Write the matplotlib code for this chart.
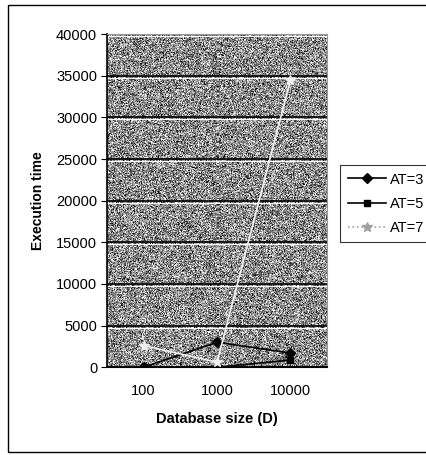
import numpy as np
import matplotlib.pyplot as plt
from matplotlib.patches import Rectangle

plt.rcParams['font.family'] = ['Liberation Sans', 'DejaVu Sans']

sizes = ['100', '1000', '10000']
at3 = [0, 3000, 1700]
at5 = [0, 0, 850]
at7 = [2600, 600, 34500]

fig = plt.figure(figsize=(4.26, 4.55), dpi=100)
ax = fig.add_axes([0.251, 0.193, 0.517, 0.732])

# grainy grey plot area
rng = np.random.default_rng(7)
tex = np.clip(rng.normal(0.55, 0.24, (333, 220)), 0, 1)
ax.imshow(tex, cmap='gray', vmin=0, vmax=1, extent=[0, 1, 0, 1],
          transform=ax.transAxes, aspect='auto', zorder=0, interpolation='nearest')

x = np.arange(len(sizes))
ax.plot(x, at3, color='black', lw=1.2, marker='D', ms=5, label='AT=3', zorder=3)
ax.plot(x, at5, color='black', lw=1.2, marker='s', ms=5, label='AT=5', zorder=3)
ax.plot(x, at7, color='#f0f0f0', lw=1.2, marker='*', ms=7, label='AT=7', zorder=3)

ax.set_xlim(-0.5, 2.5)
ax.set_ylim(0, 40000)
ax.set_yticks(range(0, 40001, 5000))
ax.set_xticks(x)
ax.set_xticklabels(sizes)
ax.set_xticks([0.5, 1.5], minor=True)
ax.tick_params(axis='x', which='major', length=0, pad=12, labelsize=10.5)
ax.tick_params(axis='x', which='minor', length=4, direction='in', color='black')
ax.tick_params(axis='y', length=4, direction='out', pad=3, labelsize=10.5)

for v in range(5000, 40001, 5000):
    ax.axhline(v, color='black', lw=1.2, zorder=1)
    ax.axhline(v - 250, color='white', lw=0.8, zorder=1)

for s in ['top', 'right']:
    ax.spines[s].set_color('#9a9a9a')
ax.spines['left'].set_linewidth(1.2)
ax.spines['bottom'].set_linewidth(1.5)

ax.set_xlabel('Database size (D)', fontsize=10.5, fontweight='bold', labelpad=10)
ax.set_ylabel('Execution time', fontsize=10, fontweight='bold', labelpad=8)

leg = fig.legend(loc='upper left', bbox_to_anchor=(333 / 426, 1 - 158 / 455),
                 fontsize=10.5, frameon=True, fancybox=False, edgecolor='black',
                 handlelength=2.6, borderpad=0.5, labelspacing=0.7, handletextpad=0.3)
leg.get_frame().set_linewidth(0.8)
leg.legend_handles[2].set_color('#a0a0a0')
leg.legend_handles[2].set_linestyle(':')

# outer chart border, its right side runs off the canvas
fig.patches.append(Rectangle((8 / 426, 3 / 455), 1.1, 1 - 8 / 455, transform=fig.transFigure,
                             fill=False, edgecolor='black', lw=1.0))

fig.savefig('out.png', dpi=100)
